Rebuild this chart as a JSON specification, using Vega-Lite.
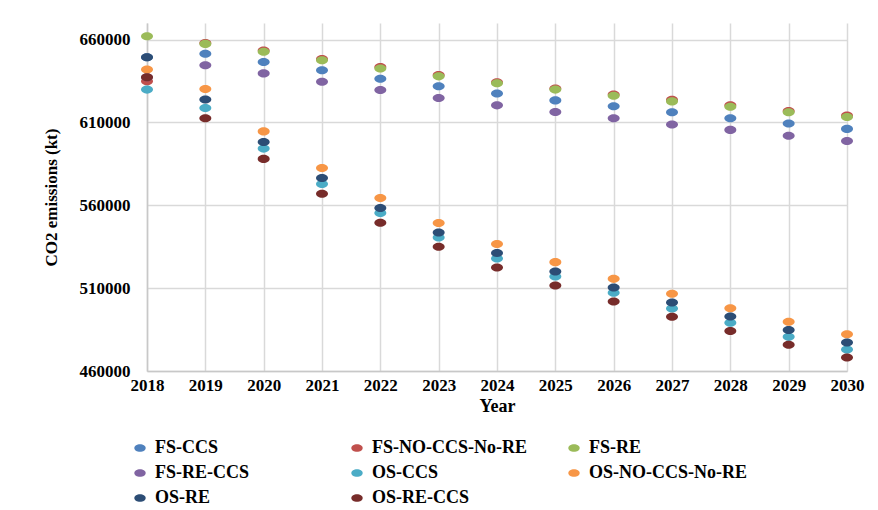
{
  "$schema": "https://vega.github.io/schema/vega-lite/v6.json",
  "width": 700,
  "height": 348,
  "autosize": {"type": "none"},
  "padding": {"left": 147, "top": 23, "right": 31, "bottom": 139},
  "background": "white",
  "config": {"view": {"stroke": null}, "font": "Liberation Serif"},
  "datasets": {
    "emissions": [
      {"year": 2018, "scenario": "FS-CCS", "value": 649300},
      {"year": 2019, "scenario": "FS-CCS", "value": 651400},
      {"year": 2020, "scenario": "FS-CCS", "value": 646500},
      {"year": 2021, "scenario": "FS-CCS", "value": 641500},
      {"year": 2022, "scenario": "FS-CCS", "value": 636400},
      {"year": 2023, "scenario": "FS-CCS", "value": 631800},
      {"year": 2024, "scenario": "FS-CCS", "value": 627400},
      {"year": 2025, "scenario": "FS-CCS", "value": 623300},
      {"year": 2026, "scenario": "FS-CCS", "value": 619700},
      {"year": 2027, "scenario": "FS-CCS", "value": 616100},
      {"year": 2028, "scenario": "FS-CCS", "value": 612500},
      {"year": 2029, "scenario": "FS-CCS", "value": 609300},
      {"year": 2030, "scenario": "FS-CCS", "value": 606100},
      {"year": 2018, "scenario": "FS-NO-CCS-No-RE", "value": 634800},
      {"year": 2019, "scenario": "FS-NO-CCS-No-RE", "value": 657900},
      {"year": 2020, "scenario": "FS-NO-CCS-No-RE", "value": 653400},
      {"year": 2021, "scenario": "FS-NO-CCS-No-RE", "value": 648200},
      {"year": 2022, "scenario": "FS-NO-CCS-No-RE", "value": 643400},
      {"year": 2023, "scenario": "FS-NO-CCS-No-RE", "value": 638600},
      {"year": 2024, "scenario": "FS-NO-CCS-No-RE", "value": 634300},
      {"year": 2025, "scenario": "FS-NO-CCS-No-RE", "value": 630500},
      {"year": 2026, "scenario": "FS-NO-CCS-No-RE", "value": 626800},
      {"year": 2027, "scenario": "FS-NO-CCS-No-RE", "value": 623600},
      {"year": 2028, "scenario": "FS-NO-CCS-No-RE", "value": 620300},
      {"year": 2029, "scenario": "FS-NO-CCS-No-RE", "value": 616900},
      {"year": 2030, "scenario": "FS-NO-CCS-No-RE", "value": 614100},
      {"year": 2018, "scenario": "FS-RE", "value": 662000},
      {"year": 2019, "scenario": "FS-RE", "value": 657400},
      {"year": 2020, "scenario": "FS-RE", "value": 652600},
      {"year": 2021, "scenario": "FS-RE", "value": 647500},
      {"year": 2022, "scenario": "FS-RE", "value": 642500},
      {"year": 2023, "scenario": "FS-RE", "value": 637800},
      {"year": 2024, "scenario": "FS-RE", "value": 633600},
      {"year": 2025, "scenario": "FS-RE", "value": 629800},
      {"year": 2026, "scenario": "FS-RE", "value": 626100},
      {"year": 2027, "scenario": "FS-RE", "value": 622700},
      {"year": 2028, "scenario": "FS-RE", "value": 619500},
      {"year": 2029, "scenario": "FS-RE", "value": 616100},
      {"year": 2030, "scenario": "FS-RE", "value": 613300},
      {"year": 2018, "scenario": "FS-RE-CCS", "value": 637200},
      {"year": 2019, "scenario": "FS-RE-CCS", "value": 644500},
      {"year": 2020, "scenario": "FS-RE-CCS", "value": 639600},
      {"year": 2021, "scenario": "FS-RE-CCS", "value": 634500},
      {"year": 2022, "scenario": "FS-RE-CCS", "value": 629600},
      {"year": 2023, "scenario": "FS-RE-CCS", "value": 624800},
      {"year": 2024, "scenario": "FS-RE-CCS", "value": 620300},
      {"year": 2025, "scenario": "FS-RE-CCS", "value": 616300},
      {"year": 2026, "scenario": "FS-RE-CCS", "value": 612500},
      {"year": 2027, "scenario": "FS-RE-CCS", "value": 608800},
      {"year": 2028, "scenario": "FS-RE-CCS", "value": 605500},
      {"year": 2029, "scenario": "FS-RE-CCS", "value": 602000},
      {"year": 2030, "scenario": "FS-RE-CCS", "value": 598800},
      {"year": 2018, "scenario": "OS-CCS", "value": 629800},
      {"year": 2019, "scenario": "OS-CCS", "value": 618700},
      {"year": 2020, "scenario": "OS-CCS", "value": 594200},
      {"year": 2021, "scenario": "OS-CCS", "value": 572800},
      {"year": 2022, "scenario": "OS-CCS", "value": 555300},
      {"year": 2023, "scenario": "OS-CCS", "value": 540600},
      {"year": 2024, "scenario": "OS-CCS", "value": 527900},
      {"year": 2025, "scenario": "OS-CCS", "value": 517000},
      {"year": 2026, "scenario": "OS-CCS", "value": 507200},
      {"year": 2027, "scenario": "OS-CCS", "value": 497700},
      {"year": 2028, "scenario": "OS-CCS", "value": 489100},
      {"year": 2029, "scenario": "OS-CCS", "value": 480600},
      {"year": 2030, "scenario": "OS-CCS", "value": 472900},
      {"year": 2018, "scenario": "OS-NO-CCS-No-RE", "value": 641900},
      {"year": 2019, "scenario": "OS-NO-CCS-No-RE", "value": 630200},
      {"year": 2020, "scenario": "OS-NO-CCS-No-RE", "value": 604600},
      {"year": 2021, "scenario": "OS-NO-CCS-No-RE", "value": 582500},
      {"year": 2022, "scenario": "OS-NO-CCS-No-RE", "value": 564400},
      {"year": 2023, "scenario": "OS-NO-CCS-No-RE", "value": 549300},
      {"year": 2024, "scenario": "OS-NO-CCS-No-RE", "value": 536600},
      {"year": 2025, "scenario": "OS-NO-CCS-No-RE", "value": 525700},
      {"year": 2026, "scenario": "OS-NO-CCS-No-RE", "value": 515600},
      {"year": 2027, "scenario": "OS-NO-CCS-No-RE", "value": 506600},
      {"year": 2028, "scenario": "OS-NO-CCS-No-RE", "value": 497900},
      {"year": 2029, "scenario": "OS-NO-CCS-No-RE", "value": 489700},
      {"year": 2030, "scenario": "OS-NO-CCS-No-RE", "value": 482200},
      {"year": 2018, "scenario": "OS-RE", "value": 649300},
      {"year": 2019, "scenario": "OS-RE", "value": 623800},
      {"year": 2020, "scenario": "OS-RE", "value": 598200},
      {"year": 2021, "scenario": "OS-RE", "value": 576500},
      {"year": 2022, "scenario": "OS-RE", "value": 558300},
      {"year": 2023, "scenario": "OS-RE", "value": 543600},
      {"year": 2024, "scenario": "OS-RE", "value": 531200},
      {"year": 2025, "scenario": "OS-RE", "value": 520100},
      {"year": 2026, "scenario": "OS-RE", "value": 510400},
      {"year": 2027, "scenario": "OS-RE", "value": 501300},
      {"year": 2028, "scenario": "OS-RE", "value": 492900},
      {"year": 2029, "scenario": "OS-RE", "value": 484800},
      {"year": 2030, "scenario": "OS-RE", "value": 477200},
      {"year": 2018, "scenario": "OS-RE-CCS", "value": 637200},
      {"year": 2019, "scenario": "OS-RE-CCS", "value": 612500},
      {"year": 2020, "scenario": "OS-RE-CCS", "value": 588000},
      {"year": 2021, "scenario": "OS-RE-CCS", "value": 567000},
      {"year": 2022, "scenario": "OS-RE-CCS", "value": 549500},
      {"year": 2023, "scenario": "OS-RE-CCS", "value": 535000},
      {"year": 2024, "scenario": "OS-RE-CCS", "value": 522500},
      {"year": 2025, "scenario": "OS-RE-CCS", "value": 511600},
      {"year": 2026, "scenario": "OS-RE-CCS", "value": 501900},
      {"year": 2027, "scenario": "OS-RE-CCS", "value": 492700},
      {"year": 2028, "scenario": "OS-RE-CCS", "value": 484100},
      {"year": 2029, "scenario": "OS-RE-CCS", "value": 475800},
      {"year": 2030, "scenario": "OS-RE-CCS", "value": 468100}
    ]
  },
  "data": {"name": "emissions"},
  "mark": {
    "type": "point",
    "filled": true,
    "opacity": 1,
    "size": 144,
    "strokeWidth": 0,
    "shape": "M-1,0A1,0.67,0,1,1,1,0A1,0.67,0,1,1,-1,0Z",
    "clip": false
  },
  "encoding": {
    "x": {
      "field": "year",
      "type": "quantitative",
      "scale": {"domain": [2018, 2030], "nice": false, "zero": false},
      "axis": {
        "values": [2018, 2019, 2020, 2021, 2022, 2023, 2024, 2025, 2026, 2027, 2028, 2029, 2030],
        "format": "d",
        "title": "Year",
        "labelFont": "Liberation Serif",
        "labelFontWeight": "bold",
        "labelFontSize": 17,
        "labelColor": "black",
        "labelPadding": 6,
        "labelFlush": false,
        "labelOverlap": false,
        "ticks": false,
        "domainColor": "#C8C8C8",
        "domainWidth": 1.5,
        "grid": true,
        "gridColor": "#D9D9D9",
        "gridWidth": 1.5,
        "titleFont": "Liberation Serif",
        "titleFontSize": 18,
        "titleFontWeight": "bold",
        "titleColor": "black",
        "titlePadding": 4
      }
    },
    "y": {
      "field": "value",
      "type": "quantitative",
      "scale": {"domain": [460000, 670000], "nice": false, "zero": false},
      "axis": {
        "values": [460000, 510000, 560000, 610000, 660000],
        "format": "d",
        "title": "CO2 emissions (kt)",
        "labelFont": "Liberation Serif",
        "labelFontWeight": "bold",
        "labelFontSize": 17,
        "labelColor": "black",
        "labelPadding": 17,
        "ticks": false,
        "domainColor": "#C8C8C8",
        "domainWidth": 1.5,
        "grid": true,
        "gridColor": "#D9D9D9",
        "gridWidth": 1.5,
        "titleFont": "Liberation Serif",
        "titleFontSize": 17,
        "titleFontWeight": "bold",
        "titleColor": "black",
        "titlePadding": 19
      }
    },
    "color": {
      "field": "scenario",
      "type": "nominal",
      "scale": {
        "domain": ["FS-CCS", "FS-NO-CCS-No-RE", "FS-RE", "FS-RE-CCS", "OS-CCS", "OS-NO-CCS-No-RE", "OS-RE", "OS-RE-CCS"],
        "range": ["#4F81BD", "#C0504D", "#9BBB59", "#8064A2", "#4BACC6", "#F79646", "#2C4D75", "#772C2A"]
      },
      "legend": {
        "title": null,
        "orient": "none",
        "legendX": -16,
        "legendY": 416,
        "columns": 3,
        "gridAlign": "all",
        "columnPadding": 34,
        "rowPadding": 7,
        "values": ["FS-CCS", "FS-RE-CCS", "OS-RE", "FS-NO-CCS-No-RE", "OS-CCS", "OS-RE-CCS", "FS-RE", "OS-NO-CCS-No-RE"],
        "symbolType": "M-1,0A1,0.67,0,1,1,1,0A1,0.67,0,1,1,-1,0Z",
        "symbolSize": 130,
        "symbolStrokeWidth": 0,
        "labelFont": "Liberation Serif",
        "labelFontSize": 18,
        "labelFontWeight": "bold",
        "labelColor": "black",
        "labelOffset": 6,
        "labelLimit": 300
      }
    }
  }
}
